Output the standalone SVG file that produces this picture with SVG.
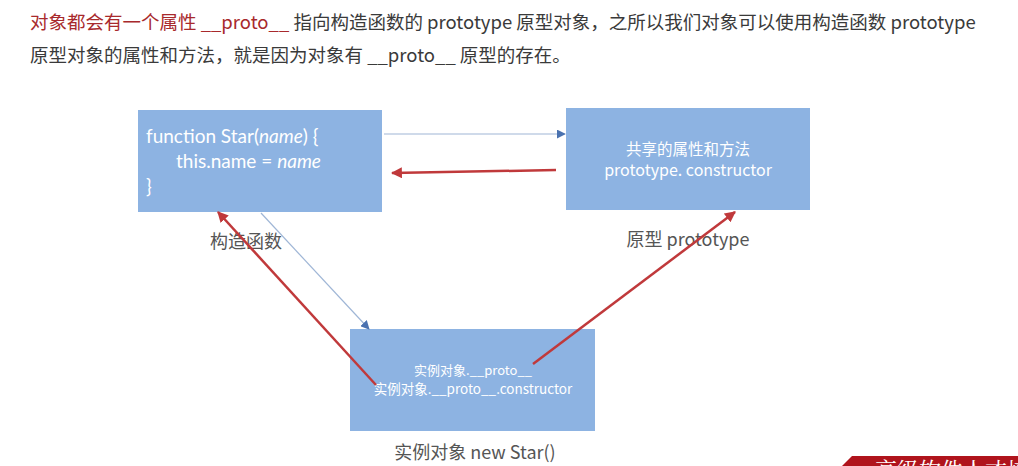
<svg xmlns="http://www.w3.org/2000/svg" width="1018" height="466" viewBox="0 0 1018 466">
<defs>
<style>
.t{font-family:"Noto Sans CJK SC","Noto Sans",sans-serif;font-size:18.5px;fill:#3a3a3a}
.red{fill:#a8292c}
.box{fill:#8db3e2}
.code{font-family:Lato,"Noto Sans",sans-serif;font-size:19px;fill:#ffffff}
.wt{font-family:"Noto Sans CJK SC","Noto Sans",sans-serif;fill:#ffffff;text-anchor:middle}
.lbl{font-family:"Noto Sans CJK SC","Noto Sans",sans-serif;font-size:18px;fill:#555555;text-anchor:middle}
.bl{stroke:#9fb6d6;stroke-width:1.2;fill:none}
.rl{stroke:#c0393b;stroke-width:2.5;fill:none}
</style>
<marker id="ab" viewBox="0 0 10 10" refX="9" refY="5" markerWidth="9" markerHeight="9" markerUnits="userSpaceOnUse" orient="auto"><path d="M0,0 L10,5 L0,10 z" fill="#4a72b0"/></marker>
<marker id="ar" viewBox="0 0 10 10" refX="9" refY="5" markerWidth="11" markerHeight="11" markerUnits="userSpaceOnUse" orient="auto"><path d="M0,0 L10,5 L0,10 z" fill="#c0393b"/></marker>
</defs>
<rect width="1018" height="466" fill="#ffffff"/>
<g id="header">
<text class="t" x="30" y="29"><tspan class="red">对象都会有一个属性 __proto__</tspan> 指向构造函数的 prototype 原型对象，之所以我们对象可以使用构造函数 prototype</text>
<text class="t" x="30" y="62">原型对象的属性和方法，就是因为对象有 __proto__ 原型的存在。</text>
</g>
<g id="constructor">
<rect class="box" x="138" y="110" width="244" height="102"/>
<text class="code" x="146" y="143">function Star(<tspan font-style="italic">name</tspan>) {</text>
<text class="code" x="176" y="168">this.name = <tspan font-style="italic">name</tspan></text>
<text class="code" x="146" y="193">}</text>
<text class="lbl" x="246" y="248">构造函数</text>
</g>
<g id="prototype">
<rect class="box" x="566" y="108" width="244" height="102"/>
<text class="wt" x="688" y="155" font-size="15.5">共享的属性和方法</text>
<text class="wt" x="688" y="176" font-size="16">prototype. constructor</text>
<text class="lbl" x="688" y="246">原型 prototype</text>
</g>
<g id="instance">
<rect class="box" x="350" y="329" width="245" height="102"/>
<text class="wt" x="473" y="375" font-size="13">实例对象.__proto__</text>
<text class="wt" x="473" y="394" font-size="13.5">实例对象.__proto__.constructor</text>
<text class="lbl" x="475" y="459" font-size="18.5">实例对象 new Star()</text>
</g>
<g id="connectors">
<line class="bl" x1="384" y1="134" x2="565" y2="134" marker-end="url(#ab)"/>
<line class="rl" x1="556" y1="170" x2="392" y2="173" marker-end="url(#ar)"/>
<line class="bl" x1="261" y1="213" x2="369" y2="329" marker-end="url(#ab)"/>
<line class="rl" x1="376" y1="385" x2="218" y2="212" marker-end="url(#ar)"/>
<line class="rl" x1="533" y1="364" x2="735" y2="212" marker-end="url(#ar)"/>
</g>
<g id="watermark">
<polygon points="852,456 1018,456 1018,466 842,466" fill="#b0141c"/>
<text x="875" y="478" font-family="'Noto Serif CJK SC','Noto Sans CJK SC',serif" font-size="22" fill="#ffffff">高级软件人才培训</text>
</g>
</svg>
